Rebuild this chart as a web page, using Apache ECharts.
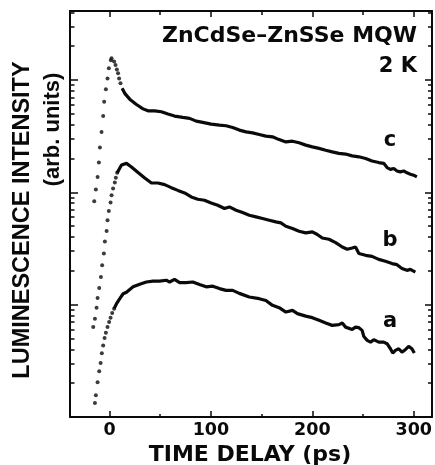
<!DOCTYPE html>
<html>
<head>
<meta charset="utf-8">
<script src="https://cdn.jsdelivr.net/npm/echarts@6/dist/echarts.min.js"></script>
<style>
html,body{margin:0;padding:0;background:#fff;}
#chart{width:435px;height:465px;}
</style>
</head>
<body>
<div id="chart"></div>
<script>
// ---- data: [time delay (ps), luminescence intensity (arb. units)] ----
var dotsC = [[-15.1,8.33],[-13.5,10.6],[-11.8,13.7],[-10.5,18.4],[-9.5,25.1],[-7.9,34.5],[-6.3,47.7],[-5.3,63.9],[-3.6,82.5],[-2.0,103],[-0.7,127],[1.3,150],[2.0,156],[4.5,146],[5.9,136],[7.2,124],[8.4,115],[9.4,103],[10.8,93.3]];
var lineC = [[12.4,84.2],[15,76],[19.9,67.5],[26.5,60.5],[33,55.3],[37.9,53.1],[44.5,53.1],[51.1,52.1],[57.6,49.7],[64.1,47.7],[72.3,46.4],[78.9,45.5],[85.5,43.0],[91.9,41.9],[100.2,40.5],[108.4,39.6],[114.9,39.1],[121.4,37.8],[128,35.8],[134.6,34.5],[141.1,33.8],[147.6,32.7],[154.2,31.6],[160.7,31.2],[166.6,29.6],[173.9,28.1],[180.4,28.5],[186.9,27.6],[193.5,26.3],[200,25.4],[206.6,24.6],[213.2,23.7],[219.6,22.9],[226.2,22.2],[232.8,21.9],[239.3,21.1],[245.9,20.7],[252.5,20.0],[258.9,19.0],[265.5,18.4],[270.4,18.1],[273.7,16.6],[277,16.0],[280.3,16.3],[283.5,15.5],[286.8,15.2],[290.1,15.5],[293.3,14.9],[296.7,14.5],[299.9,14.2],[303.1,13.7]];
var dotsB = [[-16.1,0.631],[-14.4,0.75],[-12.8,0.94],[-11.8,1.145],[-10.2,1.406],[-8.5,1.762],[-7.3,2.24],[-5.6,2.85],[-4.6,3.64],[-2.9,4.53],[-2.0,5.64],[-0.7,6.83],[1.0,8.11],[2.0,9.42],[3.5,10.8],[5.2,12.2],[6.2,13.5],[7.5,14.9]];
var lineB = [[7.5,14.9],[8.4,15.2],[11.8,17.5],[13.4,17.7],[16.7,18.1],[21.6,16.8],[28.1,15.0],[34.7,13.4],[41.3,12.1],[47.7,12.1],[54.3,11.7],[60.9,11.0],[67.4,10.4],[74.0,9.88],[80.6,9.10],[87.0,8.68],[93.6,8.50],[100.2,8.05],[106.7,7.67],[113.3,7.17],[118.2,7.41],[124.8,6.93],[131.2,6.60],[137.8,6.25],[144.4,6.04],[150.9,5.84],[157.5,5.64],[164.0,5.45],[169.0,5.34],[173.9,4.99],[180.4,4.76],[186.9,4.50],[193.5,4.35],[200.0,4.44],[204.9,4.21],[209.8,3.92],[216.4,3.82],[223.0,3.57],[229.5,3.26],[234.4,3.11],[239.3,3.19],[242.6,3.26],[245.9,2.85],[252.5,2.75],[258.9,2.69],[265.5,2.53],[272.1,2.43],[278.6,2.32],[283.5,2.27],[288.4,2.10],[293.3,2.02],[296.7,2.06],[301.6,1.95]];
var dotsA = [[-14.4,0.133],[-13.5,0.156],[-11.8,0.204],[-10.2,0.256],[-8.8,0.303],[-7.6,0.369],[-6.3,0.434],[-4.9,0.504],[-3.6,0.561],[-2.0,0.631],[-0.4,0.70],[1.0,0.766],[2.6,0.841],[4.5,0.921]];
var lineA = [[4.5,0.921],[6.9,1.02],[10.1,1.13],[13.4,1.25],[16.7,1.29],[23.2,1.44],[29.8,1.52],[36.3,1.59],[42.8,1.62],[49.4,1.62],[56.0,1.65],[59.2,1.59],[64.1,1.68],[69.1,1.57],[75.6,1.57],[82.1,1.59],[88.7,1.51],[95.3,1.44],[101.8,1.46],[108.4,1.39],[114.9,1.34],[121.4,1.34],[128.0,1.26],[137.8,1.17],[147.6,1.13],[154.2,1.09],[160.7,0.986],[167.3,0.94],[173.9,0.859],[180.4,0.889],[185.3,0.832],[193.5,0.791],[200.0,0.766],[206.6,0.725],[213.2,0.686],[219.6,0.654],[226.2,0.664],[229.5,0.686],[232.8,0.631],[239.3,0.602],[242.6,0.631],[245.9,0.624],[249.1,0.59],[250.8,0.521],[254.1,0.481],[257.4,0.464],[260.6,0.488],[265.5,0.464],[270.4,0.464],[273.7,0.449],[277.0,0.405],[279.3,0.371],[281.9,0.392],[285.2,0.405],[288.4,0.378],[291.7,0.397],[295.0,0.425],[298.2,0.405],[300.6,0.371]];

// ---- ticks ----
var xMajorTicks = [0,100,200,300];
var xMinorTicks = [50,150,250];
var yMajorTicks = [0.1,1,10,100];
var yMinorTicks = [0.2,0.3,0.4,0.5,0.6,0.7,0.8,0.9,2,3,4,5,6,7,8,9,20,30,40,50,60,70,80,90,200,300,400];

var INK = '#0a0a0a';
var X_MIN = -39, X_MAX = 318, Y_MIN = 0.1, Y_MAX = 411;

function xAx(pos, ticks, len, labels, line) {
  return {
    type:'value', position:pos, min:X_MIN, max:X_MAX,
    axisLine:{show:line, onZero:false, lineStyle:{color:INK, width:2}},
    axisTick:{show:true, inside:true, length:len, customValues:ticks, lineStyle:{color:INK, width:1.5}},
    axisLabel:labels ? {show:true, customValues:ticks, color:INK, fontFamily:'DejaVu Sans', fontWeight:'bold', fontSize:17.5, margin:4} : {show:false},
    splitLine:{show:false}
  };
}
function yAx(pos, ticks, len, line) {
  return {
    type:'log', logBase:10, position:pos, min:Y_MIN, max:Y_MAX,
    axisLine:{show:line, onZero:false, lineStyle:{color:INK, width:2}},
    axisTick:{show:true, inside:true, length:len, customValues:ticks, lineStyle:{color:INK, width:1.5}},
    axisLabel:{show:false},
    splitLine:{show:false}
  };
}

var chart = echarts.init(document.getElementById('chart'), null, {renderer:'canvas'});
var dotStyle = {color:INK};
chart.setOption({
  animation:false,
  backgroundColor:'#fff',
  grid:{left:70, right:1, top:11, bottom:48, containLabel:false},
  xAxis:[xAx('bottom', xMajorTicks, 6, true, true), xAx('bottom', xMinorTicks, 3, false, false),
         xAx('top', xMajorTicks, 6, false, true), xAx('top', xMinorTicks, 4, false, false)],
  yAxis:[yAx('left', yMajorTicks, 8, true), yAx('left', yMinorTicks, 4.5, false),
         yAx('right', yMajorTicks, 7, true), yAx('right', yMinorTicks, 4, false)],
  series:[
    {type:'scatter', data:dotsC, symbol:'circle', symbolSize:4, itemStyle:dotStyle, silent:true},
    {type:'line', data:lineC, showSymbol:false, lineStyle:{color:INK, width:3.2}, silent:true},
    {type:'scatter', data:dotsB, symbol:'circle', symbolSize:4, itemStyle:dotStyle, silent:true},
    {type:'line', data:lineB, showSymbol:false, lineStyle:{color:INK, width:3.2}, silent:true},
    {type:'scatter', data:dotsA, symbol:'circle', symbolSize:4, itemStyle:dotStyle, silent:true},
    {type:'line', data:lineA, showSymbol:false, lineStyle:{color:INK, width:3.2}, silent:true}
  ],
  graphic:[
    {type:'text', x:417, y:36.5, style:{text:'ZnCdSe\u2013ZnSSe MQW', fill:INK, font:'bold 22px "DejaVu Sans"', textAlign:'right', textVerticalAlign:'middle', align:'right', verticalAlign:'middle'}},
    {type:'text', x:417, y:67, style:{text:'2 K', fill:INK, font:'bold 21px "DejaVu Sans"', textAlign:'right', textVerticalAlign:'middle', align:'right', verticalAlign:'middle'}},
    {type:'text', x:390, y:140.7, style:{text:'c', fill:INK, font:'bold 21px "DejaVu Sans"', textAlign:'center', textVerticalAlign:'middle', align:'center', verticalAlign:'middle'}},
    {type:'text', x:390, y:240.7, style:{text:'b', fill:INK, font:'bold 21px "DejaVu Sans"', textAlign:'center', textVerticalAlign:'middle', align:'center', verticalAlign:'middle'}},
    {type:'text', x:390, y:321.7, style:{text:'a', fill:INK, font:'bold 21px "DejaVu Sans"', textAlign:'center', textVerticalAlign:'middle', align:'center', verticalAlign:'middle'}},
    {type:'text', x:250, y:455.5, style:{text:'TIME DELAY (ps)', fill:INK, font:'bold 22px "DejaVu Sans"', textAlign:'center', textVerticalAlign:'middle', align:'center', verticalAlign:'middle'}},
    {type:'text', x:23, y:220, rotation:Math.PI/2, style:{text:'LUMINESCENCE INTENSITY', fill:INK, font:'bold 23.5px "Liberation Sans"', textAlign:'center', textVerticalAlign:'middle', align:'center', verticalAlign:'middle'}},
    {type:'text', x:53, y:129.5, rotation:Math.PI/2, style:{text:'(arb. units)', fill:INK, font:'bold 22px "Liberation Sans"', textAlign:'center', textVerticalAlign:'middle', align:'center', verticalAlign:'middle'}}
  ]
});
</script>
</body>
</html>
